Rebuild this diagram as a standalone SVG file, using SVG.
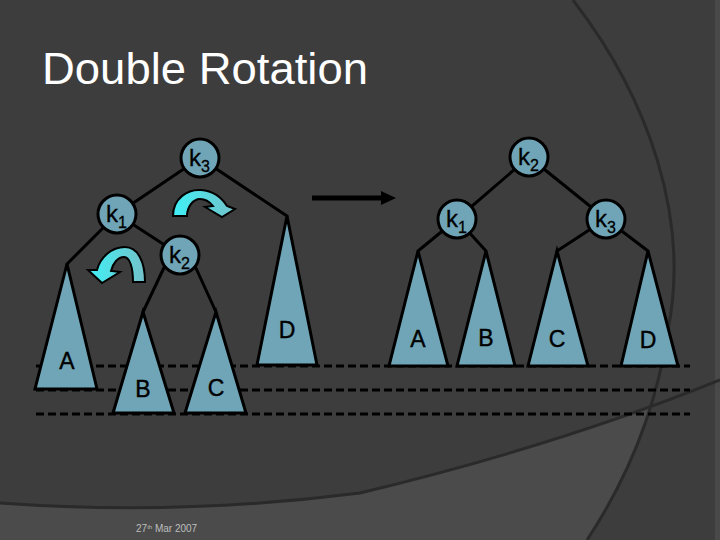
<svg xmlns="http://www.w3.org/2000/svg" width="720" height="540" viewBox="0 0 720 540">
<defs>
<style>
.edge{stroke:#000;stroke-width:3;fill:none;stroke-linecap:round}
.tri{fill:#6fa5b6;stroke:#000;stroke-width:3;stroke-linejoin:miter}
.node{fill:#6fa5b6;stroke:#000;stroke-width:3}
.klab{font-family:"Liberation Sans",Arial,sans-serif;font-size:24px;fill:#000;stroke:#000;stroke-width:0.3}
.sub{font-size:16px}
.tlab{font-family:"Liberation Sans",Arial,sans-serif;font-size:23px;fill:#000;stroke:#000;stroke-width:0.4;text-anchor:middle}
.dash{stroke:#000;stroke-width:3;stroke-dasharray:8 4;fill:none}
.rot{stroke:#000;stroke-width:2;stroke-linejoin:miter;fill:url(#cy)}
</style>
<linearGradient id="cy" x1="0" y1="0" x2="1" y2="0">
<stop offset="0" stop-color="#3ff0f6"/>
<stop offset="1" stop-color="#74c2ca"/>
</linearGradient>
</defs>
<g id="background">
<rect width="720" height="540" fill="#3d3d3d"/>
<path d="M0,503 Q180,516 360,493 Q560,445 720,380 L720,540 L0,540 Z" fill="#4b4b4b"/>
<path d="M573,0 C650,100 690,220 668,330 C655,420 620,490 587,540 L720,540 L720,0 Z" fill="#3d3d3d"/>
<rect x="715" y="0" width="5" height="540" fill="#494949"/>
<path d="M0,503 Q180,516 360,493 Q560,445 720,380" fill="none" stroke="#2a2a2a" stroke-width="3"/>
<path d="M573,0 C650,100 690,220 668,330 C655,420 620,490 587,540" fill="none" stroke="#2a2a2a" stroke-width="3"/>
</g>
<text id="title" x="42" y="84" font-family="'Liberation Sans',Arial,sans-serif" font-size="45" fill="#ffffff" textLength="326" lengthAdjust="spacingAndGlyphs">Double Rotation</text>
<text id="footer" x="136" y="532" font-family="'Liberation Sans',Arial,sans-serif" font-size="10" fill="#bdbdbd">27<tspan font-size="6" dy="-3">th</tspan><tspan dy="3"> Mar 2007</tspan></text>
<g id="levels">
<line class="dash" x1="36" y1="366" x2="690" y2="366"/>
<line class="dash" x1="36" y1="390" x2="690" y2="390"/>
<line class="dash" x1="36" y1="414" x2="690" y2="414"/>
</g>
<g id="connectors">
<line class="edge" x1="200" y1="158" x2="117" y2="214"/>
<line class="edge" x1="200" y1="158" x2="287" y2="216"/>
<line class="edge" x1="117" y1="214" x2="67" y2="264"/>
<line class="edge" x1="117" y1="214" x2="180" y2="255"/>
<line class="edge" x1="170" y1="255" x2="143" y2="312"/>
<line class="edge" x1="190" y1="255" x2="216" y2="312"/>
<line class="edge" x1="529" y1="157" x2="457" y2="219"/>
<line class="edge" x1="529" y1="157" x2="606" y2="219"/>
<line class="edge" x1="457" y1="219" x2="418" y2="251"/>
<line class="edge" x1="457" y1="219" x2="486" y2="251"/>
<line class="edge" x1="606" y1="219" x2="557" y2="251"/>
<line class="edge" x1="606" y1="219" x2="648" y2="251"/>
</g>
<g id="transform-arrow">
<line x1="312" y1="198" x2="384" y2="198" stroke="#000" stroke-width="5"/>
<polygon points="381,191 396,198 381,205" fill="#000"/>
</g>
<g id="rotate-top">
<path class="rot" d="M173,216 C173,198 188,189 201,190 C213,191 222,198 227,206 L235,209 L222,217 L205,207 L213,206 C209,201 205,199 200,199 C193,199 187,207 187,216 Z"/>
</g>
<g id="rotate-left">
<path class="rot" d="M145,282 C145,262 138,247 125,247 C111,247 100,258 97,270 L88,270 L102,283 L120,272 L111,271 C113,263 118,257 124,257 C130,257 133,268 133,282 Z"/>
</g>
<g id="L-k3"><circle class="node" cx="200" cy="158" r="19"/><text class="klab" x="189" y="166">k<tspan class="sub" dy="6">3</tspan></text></g>
<g id="L-k1"><circle class="node" cx="117" cy="214" r="19"/><text class="klab" x="106" y="222">k<tspan class="sub" dy="6">1</tspan></text></g>
<g id="L-k2"><circle class="node" cx="180" cy="255" r="19"/><text class="klab" x="169" y="263">k<tspan class="sub" dy="6">2</tspan></text></g>
<g id="L-A"><polygon class="tri" points="67,264 35,389 97,389"/><text class="tlab" x="67" y="369">A</text></g>
<g id="L-B"><polygon class="tri" points="143,312 113,413 174,413"/><text class="tlab" x="143" y="397">B</text></g>
<g id="L-C"><polygon class="tri" points="216,312 185,413 246,413"/><text class="tlab" x="216" y="396">C</text></g>
<g id="L-D"><polygon class="tri" points="287,216 257,365 317,365"/><text class="tlab" x="287" y="338">D</text></g>
<g id="R-k2"><circle class="node" cx="529" cy="157" r="19"/><text class="klab" x="518" y="165">k<tspan class="sub" dy="6">2</tspan></text></g>
<g id="R-k1"><circle class="node" cx="457" cy="219" r="19"/><text class="klab" x="446" y="227">k<tspan class="sub" dy="6">1</tspan></text></g>
<g id="R-k3"><circle class="node" cx="606" cy="219" r="19"/><text class="klab" x="595" y="227">k<tspan class="sub" dy="6">3</tspan></text></g>
<g id="R-A"><polygon class="tri" points="418,251 389,366 448,366"/><text class="tlab" x="418" y="347">A</text></g>
<g id="R-B"><polygon class="tri" points="486,251 457,366 515,366"/><text class="tlab" x="486" y="346">B</text></g>
<g id="R-C"><polygon class="tri" points="557,251 528,366 588,366"/><text class="tlab" x="557" y="347">C</text></g>
<g id="R-D"><polygon class="tri" points="648,251 621,366 678,366"/><text class="tlab" x="648" y="348">D</text></g>
</svg>
